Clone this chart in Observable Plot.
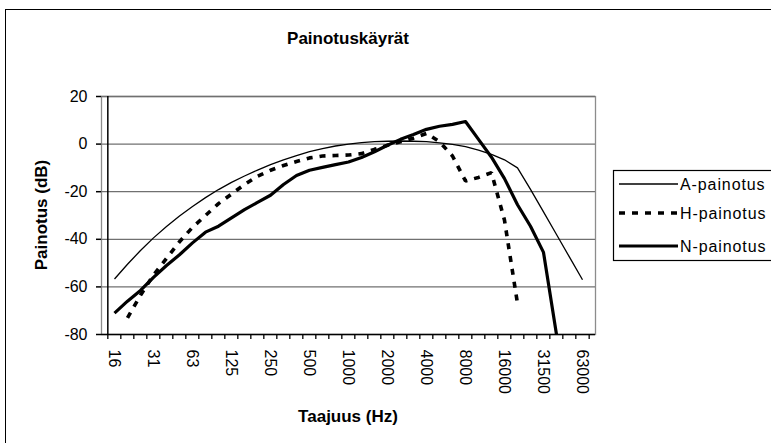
<!DOCTYPE html>
<html><head><meta charset="utf-8">
<script src="https://cdn.jsdelivr.net/npm/d3@7"></script>
<script src="https://cdn.jsdelivr.net/npm/@observablehq/plot@0.6"></script>
<style>
html,body{margin:0;padding:0;background:#fff;overflow:hidden;}
#wrap{position:relative;width:771px;height:443px;overflow:hidden;background:#fff;}
#frame{position:absolute;left:5px;top:9px;width:900px;height:600px;border:1.5px solid #000;box-sizing:border-box;pointer-events:none;}
</style></head><body><div id="wrap"></div>
<script>
// Third-octave frequency categories (Hz)
const categories = ["16","20","25","31","40","50","63","80","100","125","160","200","250","315","400","500","630","800","1000","1250","1600","2000","2500","3150","4000","5000","6300","8000","10000","12500","16000","20000","25000","31500","40000","50000","63000"];
const tickLabels = ["16","31","63","125","250","500","1000","2000","4000","8000","16000","31500","63000"];
const yTicks = [20,0,-20,-40,-60,-80];
const seriesNames = ["A-painotus","H-painotus","N-painotus"];
const aValues = [-56.7,-50.5,-44.7,-39.4,-34.6,-30.2,-26.2,-22.5,-19.1,-16.1,-13.4,-10.9,-8.6,-6.6,-4.8,-3.2,-1.9,-0.8,0,0.6,1.0,1.2,1.3,1.2,1.0,0.5,-0.1,-1.1,-2.5,-4.3,-6.6,-10,-19,-28.5,-38,-47.5,-57];
const hValues = [null,-73,-63.5,-55,-48,-41,-35,-30,-25,-21,-17,-13.5,-11,-9,-7.3,-5.8,-5,-4.8,-4.6,-4,-2.2,-0.5,1,2.5,4.5,1,-5,-15.5,-14,-12,-32,-67,null,null,null,null,null];
const nValues = [-71,-66,-61.5,-56,-51,-46.5,-41.5,-37,-34.5,-31,-27.5,-24.5,-21.5,-17,-13.2,-11,-9.8,-8.6,-7.5,-5.6,-3.2,-0.5,2,4,6.2,7.5,8.3,9.5,2,-5.5,-14.5,-25.5,-34.5,-45.5,-80,null,null];
const seriesValues = [aValues, hValues, nValues];

const styles = {
  "A-painotus": {stroke:"#000", strokeWidth:1.3, strokeLinecap:"butt"},
  "H-painotus": {stroke:"#000", strokeWidth:3.6, strokeDasharray:"6,7", strokeLinecap:"butt", strokeLinejoin:"miter"},
  "N-painotus": {stroke:"#000", strokeWidth:3.2, strokeLinecap:"butt"}
};

const W = 771, H = 443;
const margin = {left:101, right:176, top:96, bottom:109};
const step = (W - margin.left - margin.right) / categories.length;
const font = "'Liberation Sans', Arial, sans-serif";

const rowsFor = vals => categories.map((c,i)=>({c, v: vals[i]})).filter(d => d.v != null);

const lineMarks = seriesNames.map((name,k) =>
  Plot.lineY(rowsFor(seriesValues[k]), {x:"c", y:"v", ...styles[name]})
);

const chart = Plot.plot({
  width: W, height: H,
  marginLeft: margin.left, marginRight: margin.right, marginTop: margin.top, marginBottom: margin.bottom,
  style: {fontFamily: font, fontSize: "16px", color: "#000", background: "transparent", overflow: "visible"},
  x: {type: "point", domain: categories, padding: 0.5, align: 0.5},
  y: {domain: [-80, 20]},
  marks: [
    Plot.frame({stroke: "#8c8c8c", strokeWidth: 1.3}),
    Plot.ruleY(yTicks.filter(t => t > -80), {stroke: "#707070", strokeWidth: 1.3}),
    Plot.axisY({ticks: yTicks, tickSize: 5, tickPadding: 9, fontSize: 16, label: null, strokeWidth: 1.5, tickFormat: d => String(d)}),
    Plot.axisX({ticks: categories, tickSize: 5, dx: -step/2, tickFormat: () => "", label: null, strokeWidth: 1.3}),
    Plot.axisX({ticks: [categories[categories.length-1]], tickSize: 5, dx: step/2, tickFormat: () => "", label: null, strokeWidth: 1.3}),
    Plot.axisX({ticks: tickLabels, tickSize: 0, tickPadding: 15, tickRotate: 90, fontSize: 16, label: null}),
    Plot.ruleX([categories[0]], {dx: -step/2, stroke: "#000", strokeWidth: 1.5}),
    Plot.ruleY([-80], {stroke: "#000", strokeWidth: 1.5}),
    ...lineMarks
  ]
});

const svg = d3.select(chart);
svg.append("text").text("Painotuskäyrät")
  .attr("x", 348).attr("y", 44).attr("text-anchor", "middle")
  .attr("font-weight", "bold").attr("font-size", 17).attr("font-family", font);
svg.append("text").text("Taajuus (Hz)")
  .attr("x", 348).attr("y", 422).attr("text-anchor", "middle")
  .attr("font-weight", "bold").attr("font-size", 17).attr("font-family", font);
svg.append("text").text("Painotus (dB)")
  .attr("transform", "translate(47,215) rotate(-90)").attr("text-anchor", "middle")
  .attr("font-weight", "bold").attr("font-size", 17).attr("font-family", font);

// Legend
const lg = svg.append("g");
lg.append("rect").attr("x", 613.5).attr("y", 170.5).attr("width", 220).attr("height", 90)
  .attr("fill", "#fff").attr("stroke", "#000").attr("stroke-width", 1.2);
const legendY = [184, 213, 246];
seriesNames.forEach((name, k) => {
  const s = styles[name];
  lg.append("line").attr("x1", 619).attr("x2", 678).attr("y1", legendY[k]).attr("y2", legendY[k])
    .attr("stroke", s.stroke).attr("stroke-width", s.strokeWidth)
    .attr("stroke-dasharray", s.strokeDasharray || null);
  lg.append("text").text(name).attr("x", 680).attr("y", legendY[k] + 5.5)
    .attr("text-anchor", "start")
    .attr("font-size", 16).attr("letter-spacing", 0.9).attr("font-family", font);
});

const wrap = document.getElementById("wrap");
wrap.appendChild(chart);
const fr = document.createElement("div"); fr.id = "frame"; wrap.appendChild(fr);
</script>
</body></html>
